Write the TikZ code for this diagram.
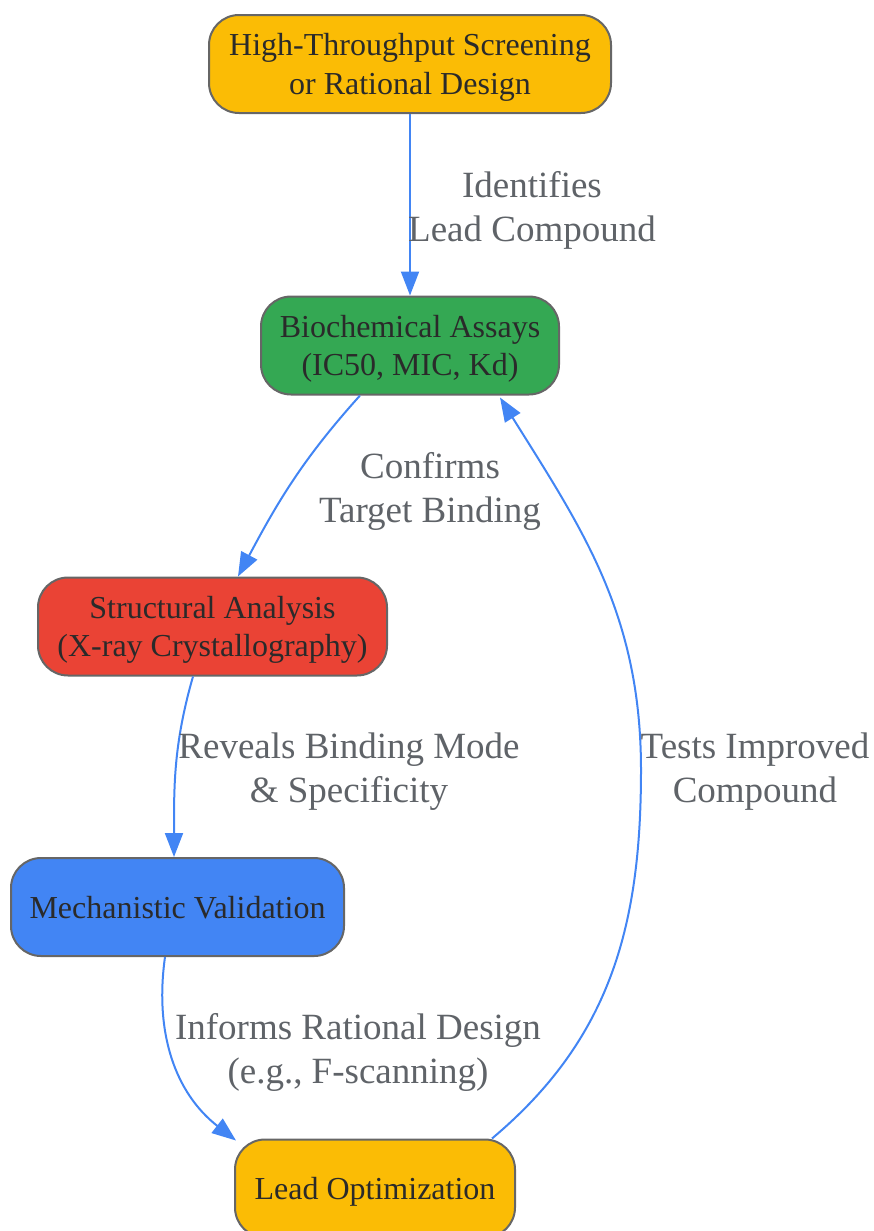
\documentclass[tikz,border=0pt]{standalone}
\usepackage{fontspec}
\setmainfont{Liberation Serif}
\usepackage{xcolor}
\usepackage{tikz}
\usetikzlibrary{arrows.meta,positioning}
\definecolor{screenyellow}{HTML}{FBBC05}
\definecolor{assaygreen}{HTML}{34A853}
\definecolor{xrayred}{HTML}{EA4335}
\definecolor{mechblue}{HTML}{4285F4}
\definecolor{flowblue}{HTML}{4285F4}
\definecolor{bordergray}{HTML}{666666}
\definecolor{nodetext}{HTML}{2A2A2A}
\definecolor{labelgray}{HTML}{5F6368}

\begin{document}
\begin{tikzpicture}[x=0.5pt,y=-0.5pt,
  stage/.style={draw=bordergray,line width=1pt,rounded corners=15pt,align=center,
    text=nodetext,minimum height=49pt,inner sep=0pt,text depth=0pt,font=\fontsize{16}{19.2}\selectfont},
  flow/.style={draw=flowblue,line width=1pt,-{Triangle[length=12pt,width=9pt]}},
  lbl/.style={text=labelgray,align=center,font=\fontsize{18.5}{22}\selectfont}]
\useasboundingbox (0,0) rectangle (873,1231);
% stages
\node[stage,fill=screenyellow,minimum width=201pt] (screen) at (410,64) {High-Throughput Screening\\or Rational Design};
\node[stage,fill=assaygreen,minimum width=149pt] (assay) at (410,345.5) {Biochemical Assays\\(IC50, MIC, Kd)};
\node[stage,fill=xrayred,minimum width=174.5pt] (xray) at (212.5,626.5) {Structural Analysis\\(X-ray Crystallography)};
\node[stage,fill=mechblue,minimum width=166.5pt] (mech) at (177.5,907) {Mechanistic Validation};
\node[stage,fill=screenyellow,minimum width=140pt] (lead) at (375,1188.5) {Lead Optimization};
% connectors
\draw[flow] (screen.south) -- (assay.north);
\draw[flow] ([xshift=-25pt]assay.south) to[out=228,in=62] ([xshift=12.75pt]xray.north);
\draw[flow] ([xshift=-9.75pt]xray.south) to[out=254,in=90] ([xshift=-1.75pt]mech.north);
\draw[flow] ([xshift=-6.25pt]mech.south) to[out=262,in=142] ([xshift=1pt,yshift=-1pt]lead.north west);
\coordinate (loop) at (641,770);
\draw[flow] ([xshift=58.5pt]lead.north) to[out=40,in=-90] (loop) to[out=90,in=-58] ([xshift=45pt,yshift=-1pt]assay.south);
% labels
\node[lbl] (l1) at (532,210) {Identifies\\Lead Compound};
\node[lbl] (l2) at (430,491) {Confirms\\Target Binding};
\node[lbl] (l3) at (349,772) {Reveals Binding Mode\\\& Specificity};
\node[lbl] (l4) at (358,1052) {Informs Rational Design\\(e.g., F-scanning)};
\node[lbl] (l5) at (755,772) {Tests Improved\\Compound};
\end{tikzpicture}
\end{document}
